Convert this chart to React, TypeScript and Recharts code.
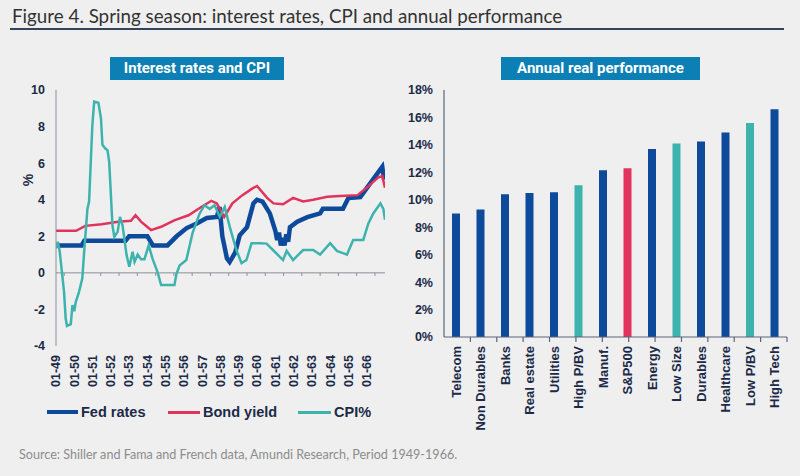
import React from 'react';
import { LineChart, Line, XAxis, YAxis, ReferenceLine, BarChart, Bar, Cell } from 'recharts';

// ---------- Left chart data: [year, value %] ----------
const fedRates: [number, number][] = [
  [1949.0, 1.5], [1950.4, 1.5], [1950.55, 1.75], [1952.8, 1.75], [1953.0, 2.0], [1954.0, 2.0],
  [1954.3, 1.5], [1955.1, 1.5], [1955.6, 2.0], [1956.15, 2.45], [1956.7, 2.7], [1957.25, 3.0],
  [1957.8, 3.06], [1957.95, 3.6], [1958.1, 2.0], [1958.35, 0.8], [1958.5, 0.6], [1958.8, 1.1],
  [1959.05, 2.05], [1959.45, 2.5], [1959.8, 3.8], [1960.0, 4.0], [1960.3, 3.9], [1960.7, 3.25],
  [1961.0, 2.3], [1961.1, 1.8], [1961.2, 2.2], [1961.3, 1.5], [1961.4, 1.9], [1961.5, 1.5],
  [1961.6, 2.1], [1961.7, 1.7], [1961.8, 2.5], [1962.2, 2.8], [1962.75, 3.05], [1963.45, 3.25],
  [1963.6, 3.5], [1964.7, 3.5], [1965.0, 4.1], [1965.65, 4.15], [1966.05, 4.7], [1966.6, 5.45],
  [1966.85, 5.8], [1966.95, 5.1],
];

const bondYield: [number, number][] = [
  [1949.0, 2.3], [1950.1, 2.3], [1950.6, 2.57], [1951.5, 2.66], [1952.4, 2.8], [1953.1, 2.85],
  [1953.35, 3.15], [1953.65, 2.8], [1954.2, 2.34], [1954.75, 2.52], [1955.5, 2.88], [1956.25, 3.15],
  [1956.95, 3.6], [1957.5, 3.94], [1957.8, 3.8], [1958.2, 3.06], [1958.65, 3.8], [1959.2, 4.25],
  [1959.77, 4.63], [1960.0, 4.75], [1960.55, 4.1], [1960.9, 3.8], [1961.42, 3.75], [1961.97, 4.1],
  [1962.52, 3.9], [1963.07, 4.0], [1963.84, 4.16], [1964.56, 4.2], [1965.5, 4.25], [1966.05, 4.7],
  [1966.6, 5.2], [1966.85, 5.3], [1967.0, 4.65],
];

const cpiPct: [number, number][] = [
  [1949.0, 1.33], [1949.1, 1.7], [1949.2, 1.2], [1949.33, 0], [1949.44, -1.04], [1949.53, -2.5],
  [1949.6, -2.9], [1949.81, -2.8], [1949.9, -1.77], [1950.0, -2.1], [1950.08, -1.6], [1950.26, -1.04],
  [1950.44, -0.3], [1950.54, 1.15], [1950.72, 3.5], [1950.81, 3.9], [1950.99, 8.1], [1951.09, 9.36],
  [1951.32, 9.3], [1951.46, 8.45], [1951.54, 7.0], [1951.7, 6.8], [1951.82, 6.7], [1951.91, 6.07],
  [1952.09, 2.6], [1952.19, 1.97], [1952.37, 2.24], [1952.5, 3.06], [1952.64, 2.6], [1952.86, 0.97],
  [1953.01, 0.33], [1953.19, 1.15], [1953.3, 0.6], [1953.47, 1.0], [1953.65, 0.75], [1953.84, 0.75],
  [1954.07, 1.5], [1954.29, 0.75], [1954.57, 0], [1954.75, -0.67], [1955.48, -0.67], [1955.58, -0.1],
  [1955.76, 0.4], [1956.13, 0.7], [1956.47, 2.17], [1956.86, 3.25], [1957.13, 3.7], [1957.41, 3.5],
  [1957.68, 3.7], [1957.96, 3.06], [1958.23, 3.6], [1958.51, 2.5], [1958.87, 1.25], [1959.15, 0.53],
  [1959.42, 0.7], [1959.7, 1.62], [1960.15, 1.62], [1960.52, 1.6], [1960.87, 1.25], [1961.42, 0.7],
  [1961.62, 1.2], [1961.97, 0.7], [1962.52, 1.25], [1963.07, 1.25], [1963.45, 1.0], [1964.0, 1.62],
  [1964.37, 1.2], [1964.92, 1.0], [1965.26, 1.8], [1965.81, 1.8], [1966.09, 2.7], [1966.36, 3.25],
  [1966.75, 3.8], [1966.91, 3.5], [1967.0, 2.9],
];

const yearTicks = [1949, 1950, 1951, 1952, 1953, 1954, 1955, 1956, 1957, 1958, 1959, 1960, 1961, 1962, 1963, 1964, 1965, 1966];
const leftYTicks = [-4, -2, 0, 2, 4, 6, 8, 10];

// ---------- Right chart data ----------
const sectors = ['Telecom', 'Non Durables', 'Banks', 'Real estate', 'Utilities', 'High P/BV', 'Manuf.', 'S&P500', 'Energy', 'Low Size', 'Durables', 'Healthcare', 'Low P/BV', 'High Tech'];
const realPerformance = [9.0, 9.3, 10.4, 10.5, 10.55, 11.05, 12.15, 12.3, 13.7, 14.1, 14.25, 14.9, 15.6, 16.6];
const sectorGroup = ['sector', 'sector', 'sector', 'sector', 'sector', 'factor', 'sector', 'index', 'sector', 'factor', 'sector', 'sector', 'factor', 'sector'];
const rightYTicks = [0, 2, 4, 6, 8, 10, 12, 14, 16, 18];

// ---------- Styles ----------
const NAVY = '#0d4a9b';
const TEAL = '#3db3ae';
const RED = '#e2335e';
const BOX = '#0c7fb5';
const TXT = '#1b2a47';
const BG = '#efefef';
const groupColor: Record<string, string> = { sector: NAVY, factor: TEAL, index: RED };
const tickFont = { fontFamily: '"Liberation Sans", Arial, sans-serif', fontWeight: 700, fill: TXT };

const toPts = (arr: [number, number][]) => arr.map(([t, v]) => ({ t, v }));

const YearTick = (props: any) => {
  const { x, y, payload } = props;
  const label = `01-${String(payload.value).slice(2)}`;
  return (
    <text x={x} y={y} transform={`rotate(-90, ${x}, ${y})`} textAnchor="end" dy="0.35em" fontSize={12.5} {...tickFont}>
      {label}
    </text>
  );
};

const CatTick = (props: any) => {
  const { x, y, payload } = props;
  return (
    <text x={x} y={y} transform={`rotate(-90, ${x}, ${y})`} textAnchor="end" dy="0.35em" fontSize={13} {...tickFont}>
      {payload.value}
    </text>
  );
};

const LeftChart = () => (
  <div style={{ position: 'absolute', left: 0, top: 0 }}>
    <LineChart width={400} height={476} margin={{ top: 90, right: 15, bottom: 70, left: 0 }}>
      <XAxis dataKey="t" type="number" domain={[1949, 1967]} ticks={yearTicks} interval={0} allowDataOverflow
        axisLine={false} tickLine={false} height={60} tickSize={6} tickMargin={3} tick={<YearTick />} />
      <YAxis type="number" domain={[-4, 10]} ticks={leftYTicks} interval={0} width={56}
        axisLine={{ stroke: '#8a8f99', strokeWidth: 1 }} tickLine={false} tickSize={6} tickMargin={5}
        tick={{ ...tickFont, fontSize: 12.5 }} />
      <ReferenceLine y={0} stroke="#8a8f99" strokeWidth={1} />
      {yearTicks.map((yr) => (
        <ReferenceLine key={yr} segment={[{ x: yr + 0.45, y: 0 }, { x: yr + 0.45, y: -0.17 }]} stroke="#8a8f99" strokeWidth={1} ifOverflow="visible" />
      ))}
      <Line data={toPts(fedRates)} dataKey="v" type="linear" stroke={NAVY} strokeWidth={4.5} dot={false} isAnimationActive={false} />
      <Line data={toPts(bondYield)} dataKey="v" type="linear" stroke={RED} strokeWidth={2.5} dot={false} isAnimationActive={false} />
      <Line data={toPts(cpiPct)} dataKey="v" type="linear" stroke={TEAL} strokeWidth={2.5} dot={false} isAnimationActive={false} />
    </LineChart>
  </div>
);

const barData = sectors.map((name, i) => ({ name, value: realPerformance[i], group: sectorGroup[i] }));
const boundaries = sectors.map((_, i) => i + 1);

const RightChart = () => (
  <div style={{ position: 'absolute', left: 400, top: 0 }}>
    <BarChart width={400} height={476} data={barData} margin={{ top: 90, right: 13, bottom: 39, left: 0 }}>
      <XAxis dataKey="name" interval={0} height={100} tickLine={false} axisLine={{ stroke: '#5a6478', strokeWidth: 1.2 }}
        tickSize={6} tickMargin={3} tick={<CatTick />} />
      <XAxis xAxisId="num" type="number" domain={[0, 14]} allowDataOverflow hide />
      <YAxis domain={[0, 18]} ticks={rightYTicks} interval={0} width={44} tickFormatter={(v: number) => `${v}%`}
        axisLine={{ stroke: '#5a6478', strokeWidth: 1.2 }} tickLine={false} tickSize={6} tickMargin={5}
        tick={{ ...tickFont, fontSize: 12.5 }} />
      {boundaries.map((k) => (
        <ReferenceLine key={k} xAxisId="num" segment={[{ x: k, y: 0 }, { x: k, y: -0.36 }]} stroke="#5a6478" strokeWidth={1.2} ifOverflow="visible" />
      ))}
      <Bar dataKey="value" barSize={8} isAnimationActive={false}>
        {barData.map((d) => (
          <Cell key={d.name} fill={groupColor[d.group]} />
        ))}
      </Bar>
    </BarChart>
  </div>
);

const legendItems = [
  { name: 'Fed rates', color: NAVY, sx: 47, tx: 81, w: 4.5 },
  { name: 'Bond yield', color: RED, sx: 168, tx: 203, w: 3 },
  { name: 'CPI%', color: TEAL, sx: 298, tx: 334, w: 3 },
];

export default function App() {
  return (
    <div style={{ position: 'absolute', left: 0, top: 0, width: 800, height: 476, background: BG, overflow: 'hidden', fontFamily: 'Lato, sans-serif' }}>
      <div style={{ position: 'absolute', left: 12, top: 4, fontSize: 18.8, color: '#333', whiteSpace: 'nowrap', fontFamily: 'Lato, sans-serif' }}>
        Figure 4. Spring season: interest rates, CPI and annual performance
      </div>
      <div style={{ position: 'absolute', left: 10, top: 28, width: 774, height: 2, background: '#34435a' }} />
      <div style={{ position: 'absolute', left: 110, top: 57, width: 174, height: 23, background: BOX, color: '#fff', fontFamily: 'Roboto, sans-serif', fontWeight: 700, fontSize: 15, lineHeight: '23px', textAlign: 'center', whiteSpace: 'nowrap' }}>
        Interest rates and CPI
      </div>
      <div style={{ position: 'absolute', left: 501, top: 57, width: 199, height: 23, background: BOX, color: '#fff', fontFamily: 'Roboto, sans-serif', fontWeight: 700, fontSize: 15, lineHeight: '23px', textAlign: 'center', whiteSpace: 'nowrap' }}>
        Annual real performance
      </div>
      <LeftChart />
      <RightChart />
      <div style={{ position: 'absolute', left: 20, top: 172, width: 16, height: 16, transform: 'rotate(-90deg)', color: TXT, fontFamily: '"Liberation Sans", Arial, sans-serif', fontWeight: 700, fontSize: 14, lineHeight: '16px', textAlign: 'center' }}>
        %
      </div>
      {legendItems.map((it) => (
        <React.Fragment key={it.name}>
          <div style={{ position: 'absolute', left: it.sx, top: 412 - it.w / 2, width: it.tx - it.sx - 3, height: it.w, background: it.color }} />
          <div style={{ position: 'absolute', left: it.tx, top: 403, color: TXT, fontFamily: '"Liberation Sans", Arial, sans-serif', fontWeight: 700, fontSize: 14.5, lineHeight: '18px', whiteSpace: 'nowrap' }}>
            {it.name}
          </div>
        </React.Fragment>
      ))}
      <div style={{ position: 'absolute', left: 19, top: 447, color: '#8c8c8c', fontFamily: 'Lato, sans-serif', fontSize: 12.6, whiteSpace: 'nowrap' }}>
        Source: Shiller and Fama and French data, Amundi Research, Period 1949-1966.
      </div>
    </div>
  );
}
